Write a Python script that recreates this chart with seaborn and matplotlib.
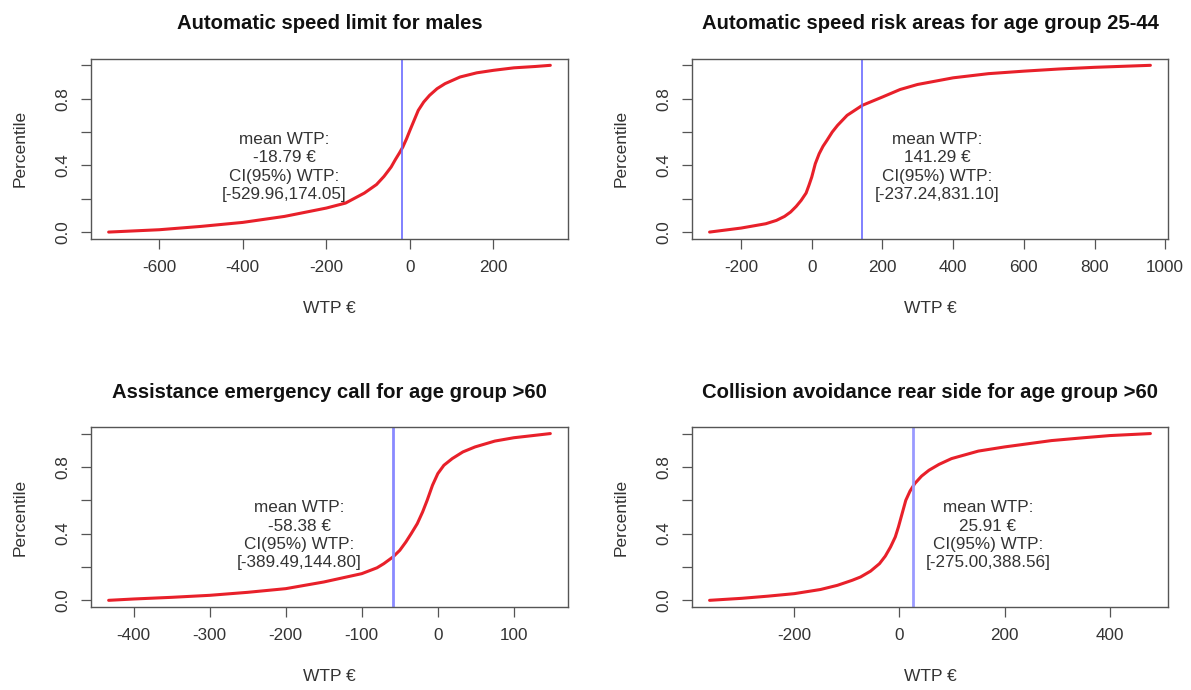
import matplotlib
matplotlib.use("Agg")
import matplotlib.pyplot as plt
import seaborn as sns
import pandas as pd

# ---- data ----
titles = [
    "Automatic speed limit for males",
    "Automatic speed risk areas for age group 25-44",
    "Assistance emergency call for age group >60",
    "Collision avoidance rear side for age group >60",
]

x_males = [-721, -600, -500, -400, -300, -200, -154, -109, -80, -62, -45, -35, -25, -17, -8, 0, 10, 20, 33, 47, 65, 84, 120, 160, 200, 249, 300, 336]
y_males = [0.0, 0.014, 0.034, 0.058, 0.094, 0.144, 0.174, 0.234, 0.285, 0.334, 0.39, 0.434, 0.475, 0.51, 0.56, 0.61, 0.67, 0.73, 0.78, 0.82, 0.86, 0.89, 0.93, 0.955, 0.97, 0.985, 0.993, 1.0]

x_2544 = [-289, -200, -130, -100, -77, -60, -44, -30, -16, -8, 0, 10, 21, 32, 43, 58, 73, 100, 143, 200, 250, 299, 400, 500, 600, 700, 800, 958]
y_2544 = [0.0, 0.024, 0.05, 0.07, 0.094, 0.12, 0.154, 0.19, 0.234, 0.28, 0.33, 0.41, 0.47, 0.515, 0.55, 0.6, 0.64, 0.7, 0.76, 0.81, 0.855, 0.885, 0.925, 0.95, 0.965, 0.978, 0.988, 1.0]

x_emerg = [-433, -400, -350, -300, -250, -200, -150, -100, -80, -71, -59, -50, -42, -35, -27, -20, -14, -7, 0, 8, 19, 33, 49, 75, 100, 125, 148]
y_emerg = [0.0, 0.008, 0.018, 0.03, 0.048, 0.07, 0.11, 0.16, 0.195, 0.22, 0.26, 0.3, 0.35, 0.4, 0.46, 0.53, 0.6, 0.69, 0.76, 0.81, 0.85, 0.89, 0.92, 0.955, 0.975, 0.988, 1.0]

x_rear = [-361, -300, -250, -200, -150, -118, -90, -74, -55, -38, -27, -17, -8, -2, 5, 12, 20, 29, 42, 56, 75, 99, 150, 200, 289, 350, 400, 477]
y_rear = [0.0, 0.012, 0.025, 0.04, 0.065, 0.09, 0.12, 0.14, 0.175, 0.22, 0.265, 0.32, 0.38, 0.44, 0.52, 0.6, 0.655, 0.7, 0.745, 0.78, 0.815, 0.85, 0.895, 0.92, 0.958, 0.975, 0.988, 1.0]

series_x = [x_males, x_2544, x_emerg, x_rear]
series_y = [y_males, y_2544, y_emerg, y_rear]

mean_wtp = [-18.79, 141.29, -58.38, 25.91]
ci_low = [-529.96, -237.24, -389.49, -275.00]
ci_high = [174.05, 831.10, 144.80, 388.56]

label_x = [-300, 355, -182, 168]
label_y = [0.39, 0.39, 0.39, 0.39]

xticks = [
    [-600, -400, -200, 0, 200],
    [-200, 0, 200, 400, 600, 800, 1000],
    [-400, -300, -200, -100, 0, 100],
    [-200, 0, 200, 400],
]
yticks = [0.0, 0.2, 0.4, 0.6, 0.8, 1.0]
ytick_labels = ["0.0", "", "0.4", "", "0.8", ""]

# ---- style ----
sns.set_theme(style="white")
plt.rcParams["font.family"] = ["Liberation Sans", "DejaVu Sans"]
TXT = "#333333"
EDGE = "#555555"

fig = plt.figure(figsize=(11.91, 6.90), dpi=100)
positions = [
    [0.0764, 0.654, 0.4005, 0.261],
    [0.5810, 0.654, 0.3997, 0.261],
    [0.0764, 0.1203, 0.4005, 0.261],
    [0.5810, 0.1203, 0.3997, 0.261],
]
line_colors = ["#6b6bff", "#6b6bff", "#8a8aff", "#9a9aff"]
line_widths = [1.2, 1.2, 2.0, 2.0]

for i in range(4):
    ax = fig.add_axes(positions[i])
    df = pd.DataFrame({"WTP": series_x[i], "Percentile": series_y[i]})
    sns.lineplot(data=df, x="WTP", y="Percentile", ax=ax, color="#e8202a",
                 linewidth=2.2, sort=False, estimator=None)
    ax.axvline(mean_wtp[i], color=line_colors[i], linewidth=line_widths[i])
    lo, hi = min(series_x[i]), max(series_x[i])
    pad = 0.04 * (hi - lo)
    ax.set_xlim(lo - pad, hi + pad)
    ax.set_ylim(-0.04, 1.04)
    ax.set_xticks(xticks[i])
    ax.set_xticklabels([str(t) for t in xticks[i]], color=TXT, fontsize=12.3)
    ax.set_yticks(yticks)
    ax.set_yticklabels(ytick_labels, rotation=90, va="center", color=TXT, fontsize=12.3)
    ax.tick_params(axis="both", direction="out", length=7, width=0.9, color=EDGE, pad=8,
                   bottom=True, left=True)
    for s in ax.spines.values():
        s.set_color(EDGE)
        s.set_linewidth(1.0)
    ax.set_xlabel("WTP €", fontsize=12.5, color=TXT, labelpad=19)
    ax.set_ylabel("Percentile", fontsize=12.5, color=TXT, labelpad=20)
    ax.set_title(titles[i], fontsize=14.6, fontweight="bold", color="#111111", pad=21)
    txt = "mean WTP:\n%.2f €\nCI(95%%) WTP:\n[%.2f,%.2f]" % (mean_wtp[i], ci_low[i], ci_high[i])
    ax.text(label_x[i], label_y[i], txt, ha="center", va="center", fontsize=12.3,
            color=TXT, linespacing=1.27)

fig.savefig("out.png", dpi=100)
